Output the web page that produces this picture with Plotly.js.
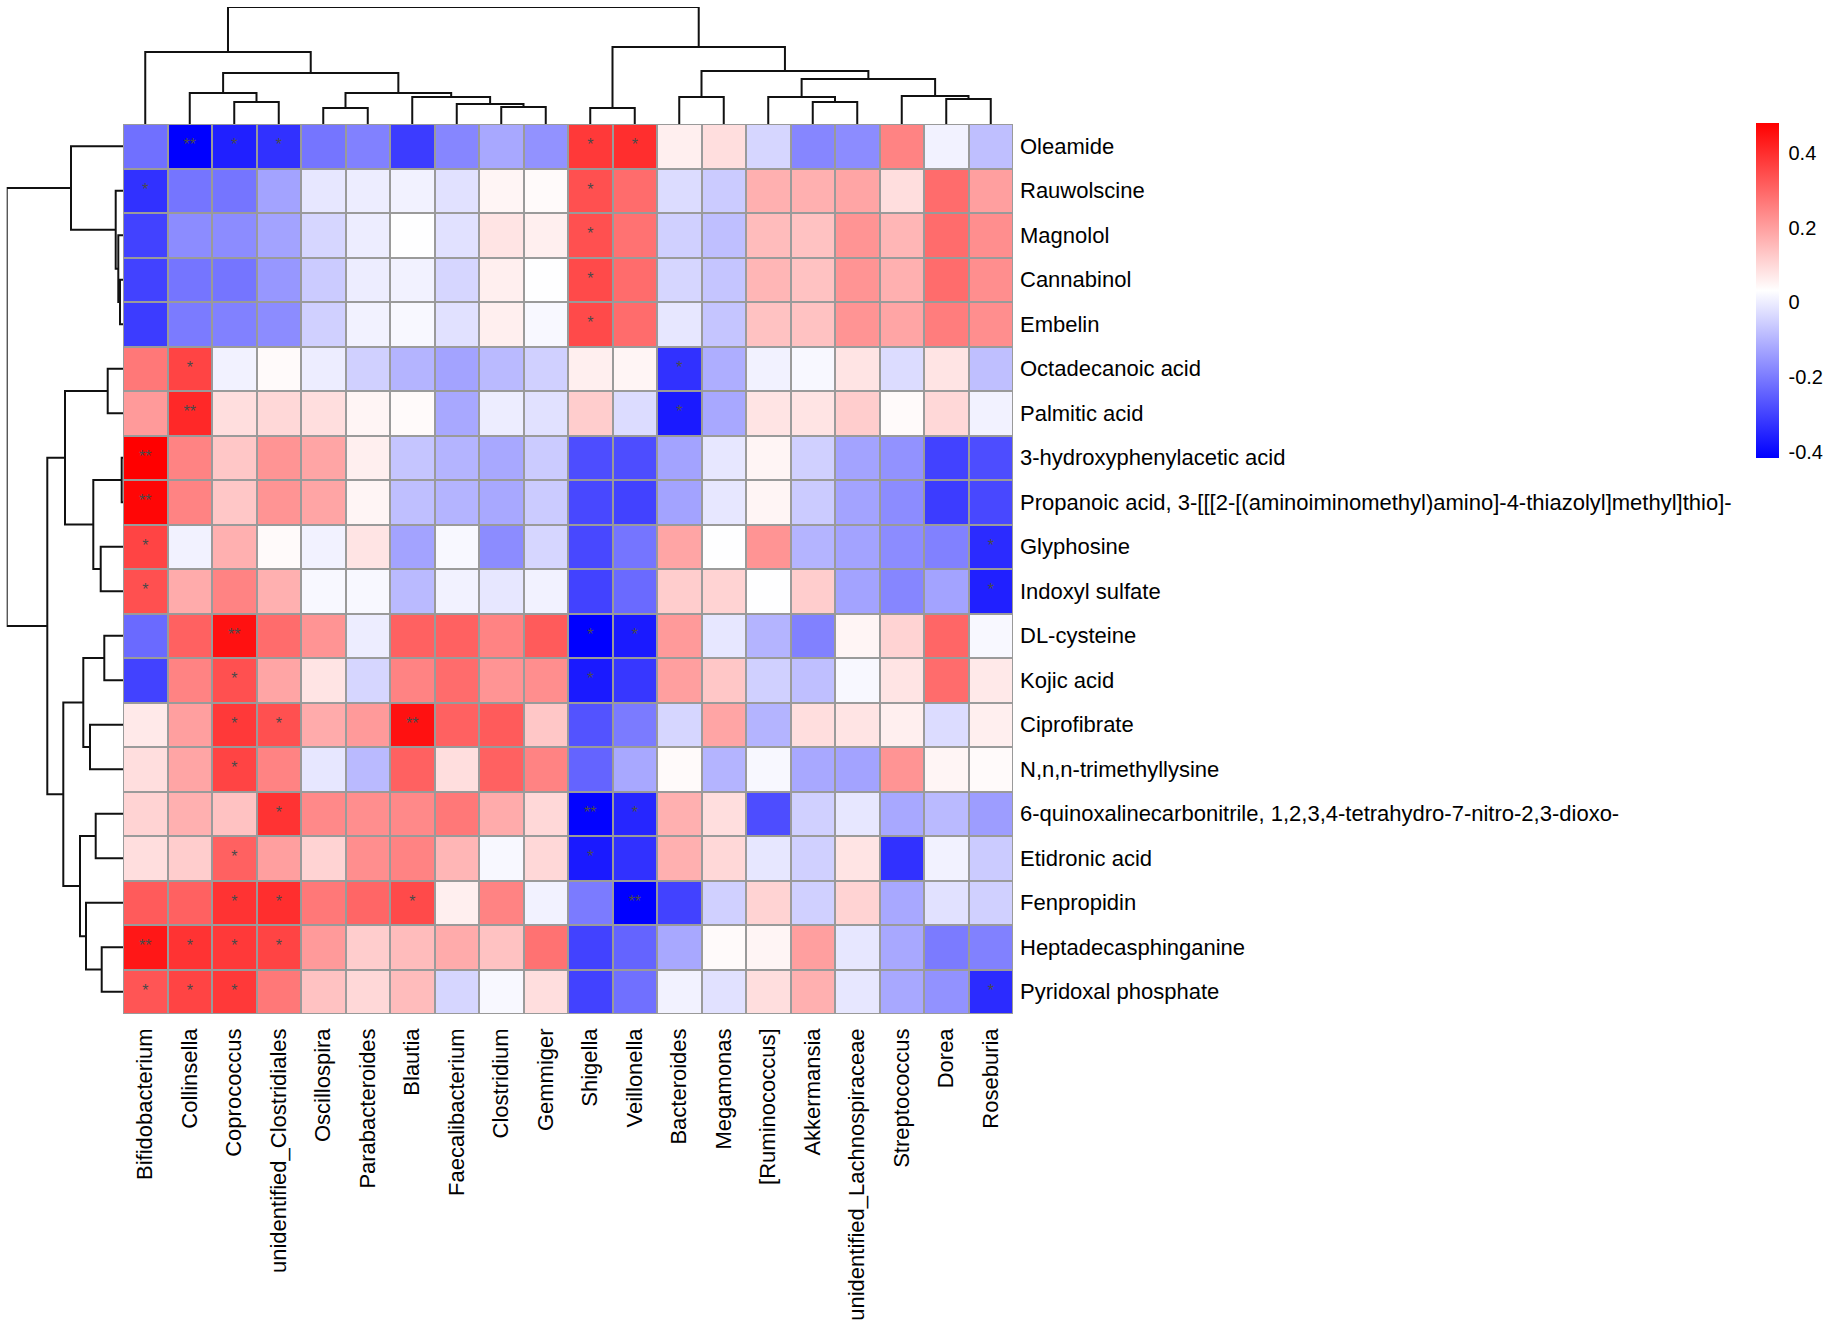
<!DOCTYPE html>
<html>
<head>
<meta charset="utf-8">
<script src="https://cdn.plot.ly/plotly-3.0.1.min.js"></script>
<style>html,body{margin:0;padding:0;background:#fff;}#chart{width:1831px;height:1322px;}</style>
</head>
<body>
<div id="chart"></div>
<script>
// ---- categories ----
const colLabels = ["Bifidobacterium","Collinsella","Coprococcus","unidentified_Clostridiales","Oscillospira","Parabacteroides","Blautia","Faecalibacterium","Clostridium","Gemmiger","Shigella","Veillonella","Bacteroides","Megamonas","[Ruminococcus]","Akkermansia","unidentified_Lachnospiraceae","Streptococcus","Dorea","Roseburia"];
const rowLabels = ["Oleamide","Rauwolscine","Magnolol","Cannabinol","Embelin","Octadecanoic acid","Palmitic acid","3-hydroxyphenylacetic acid","Propanoic acid, 3-[[[2-[(aminoiminomethyl)amino]-4-thiazolyl]methyl]thio]-","Glyphosine","Indoxyl sulfate","DL-cysteine","Kojic acid","Ciprofibrate","N,n,n-trimethyllysine","6-quinoxalinecarbonitrile, 1,2,3,4-tetrahydro-7-nitro-2,3-dioxo-","Etidronic acid","Fenpropidin","Heptadecasphinganine","Pyridoxal phosphate"];

// ---- correlation values, one array per metabolite (columns in colLabels order) ----
const vOleamide      = [-0.22,-0.42,-0.36,-0.33,-0.21,-0.19,-0.31,-0.18,-0.12,-0.16, 0.38, 0.40, 0.06, 0.09,-0.04,-0.18,-0.17, 0.25, 0.01,-0.08];
const vRauwolscine   = [-0.33,-0.21,-0.21,-0.13,-0.01, 0.00, 0.01,-0.02, 0.05, 0.04, 0.34, 0.29,-0.03,-0.06, 0.17, 0.17, 0.19, 0.09, 0.29, 0.20];
const vMagnolol      = [-0.30,-0.17,-0.17,-0.13,-0.04, 0.00, 0.03,-0.02, 0.08, 0.06, 0.34, 0.28,-0.05,-0.08, 0.15, 0.14, 0.22, 0.16, 0.29, 0.23];
const vCannabinol    = [-0.30,-0.21,-0.21,-0.15,-0.06, 0.00, 0.01,-0.04, 0.06, 0.03, 0.35, 0.29,-0.04,-0.07, 0.16, 0.14, 0.22, 0.17, 0.29, 0.23];
const vEmbelin       = [-0.31,-0.20,-0.19,-0.17,-0.05, 0.01, 0.02,-0.02, 0.06, 0.02, 0.35, 0.29,-0.01,-0.07, 0.14, 0.14, 0.22, 0.19, 0.26, 0.23];
const vOctadecanoic  = [ 0.27, 0.36, 0.01, 0.04, 0.00,-0.05,-0.10,-0.13,-0.09,-0.05, 0.06, 0.05,-0.33,-0.11, 0.01, 0.02, 0.08,-0.03, 0.08,-0.08];
const vPalmitic      = [ 0.21, 0.41, 0.09, 0.10, 0.09, 0.05, 0.04,-0.12, 0.00,-0.02, 0.12,-0.03,-0.37,-0.12, 0.08, 0.08, 0.12, 0.04, 0.10, 0.01];
const vHydroxyphenyl = [ 0.48, 0.25, 0.13, 0.22, 0.19, 0.06,-0.07,-0.10,-0.12,-0.06,-0.28,-0.28,-0.13,-0.01, 0.05,-0.05,-0.13,-0.16,-0.30,-0.28];
const vPropanoic     = [ 0.47, 0.25, 0.13, 0.22, 0.19, 0.05,-0.08,-0.10,-0.12,-0.06,-0.29,-0.30,-0.13,-0.01, 0.05,-0.06,-0.13,-0.17,-0.31,-0.29];
const vGlyphosine    = [ 0.36, 0.01, 0.17, 0.04, 0.01, 0.08,-0.13, 0.02,-0.17,-0.04,-0.29,-0.21, 0.19, 0.03, 0.22,-0.10,-0.13,-0.17,-0.19,-0.34];
const vIndoxyl       = [ 0.34, 0.18, 0.25, 0.17, 0.02, 0.02,-0.09, 0.01,-0.01, 0.01,-0.30,-0.23, 0.12, 0.11, 0.03, 0.12,-0.13,-0.18,-0.13,-0.36];
const vCysteine      = [-0.23, 0.31, 0.45, 0.29, 0.22, 0.00, 0.31, 0.31, 0.25, 0.32,-0.42,-0.37, 0.21,-0.01,-0.10,-0.19, 0.05, 0.11, 0.30, 0.02];
const vKojic         = [-0.30, 0.25, 0.34, 0.19, 0.08,-0.04, 0.25, 0.29, 0.22, 0.23,-0.37,-0.32, 0.20, 0.13,-0.05,-0.08, 0.02, 0.08, 0.29, 0.07];
const vCiprofibrate  = [ 0.07, 0.20, 0.38, 0.34, 0.18, 0.21, 0.45, 0.31, 0.32, 0.13,-0.27,-0.20,-0.04, 0.19,-0.10, 0.09, 0.08, 0.06,-0.03, 0.06];
const vTrimethyl     = [ 0.09, 0.19, 0.36, 0.25,-0.01,-0.09, 0.31, 0.09, 0.31, 0.25,-0.24,-0.12, 0.04,-0.10, 0.02,-0.12,-0.13, 0.22, 0.05, 0.04];
const vQuinoxaline   = [ 0.11, 0.17, 0.14, 0.39, 0.24, 0.23, 0.24, 0.27, 0.18, 0.10,-0.41,-0.35, 0.17, 0.09,-0.28,-0.05,-0.01,-0.12,-0.09,-0.14];
const vEtidronic     = [ 0.09, 0.12, 0.31, 0.20, 0.11, 0.23, 0.25, 0.16, 0.02, 0.10,-0.37,-0.33, 0.17, 0.10,-0.01,-0.05, 0.08,-0.33, 0.01,-0.06];
const vFenpropidin   = [ 0.32, 0.31, 0.39, 0.40, 0.27, 0.30, 0.35, 0.06, 0.25, 0.01,-0.20,-0.42,-0.30,-0.05, 0.11,-0.05, 0.11,-0.12,-0.02,-0.05];
const vHeptadeca     = [ 0.44, 0.39, 0.38, 0.36, 0.21, 0.12, 0.15, 0.18, 0.14, 0.28,-0.30,-0.24,-0.12, 0.04, 0.05, 0.20,-0.01,-0.12,-0.20,-0.19];
const vPyridoxal     = [ 0.33, 0.36, 0.38, 0.27, 0.14, 0.10, 0.15,-0.04, 0.02, 0.09,-0.30,-0.22, 0.01,-0.02, 0.09, 0.17,-0.01,-0.12,-0.16,-0.34];

// ---- significance marks: [row index, column index, label] ----
const sigMarks = [
  [0,1,"**"],[0,2,"*"],[0,3,"*"],[0,10,"*"],[0,11,"*"],
  [1,0,"*"],[1,10,"*"],[2,10,"*"],[3,10,"*"],[4,10,"*"],
  [5,1,"*"],[5,12,"*"],[6,1,"**"],[6,12,"*"],
  [7,0,"**"],[8,0,"**"],
  [9,0,"*"],[9,19,"*"],[10,0,"*"],[10,19,"*"],
  [11,2,"**"],[11,10,"*"],[11,11,"*"],
  [12,2,"*"],[12,10,"*"],
  [13,2,"*"],[13,3,"*"],[13,6,"**"],
  [14,2,"*"],
  [15,3,"*"],[15,10,"**"],[15,11,"*"],
  [16,2,"*"],[16,10,"*"],
  [17,2,"*"],[17,3,"*"],[17,6,"*"],[17,11,"**"],
  [18,0,"**"],[18,1,"*"],[18,2,"*"],[18,3,"*"],
  [19,0,"*"],[19,1,"*"],[19,2,"*"],[19,19,"*"]
];

// ---- dendrograms (hclust style: negative = leaf -(i+1), positive = earlier merge step; third = height) ----
const colMerge = [
  [-3,-4,22],[-2,1,31],[-5,-6,16],[-9,-10,17],[-8,4,20],[-7,5,27],[3,6,31],[2,7,51],[-1,8,72],
  [-11,-12,16],[-13,-14,27],[-16,-17,22],[-15,12,27],[-19,-20,25],[-18,14,28],[13,15,45],[11,16,53],[10,17,77],
  [9,18,117]
];
const rowMerge = [
  [-4,-5,3],[-3,1,4.7],[-2,2,7.3],[-1,3,52],
  [-6,-7,15.3],[-8,-9,1.3],[-10,-11,22.3],[6,7,29.7],[5,8,58],
  [-12,-13,18.7],[-14,-15,33],[10,11,39.7],[-16,-17,27.3],[-19,-20,21.3],[-18,14,37],[13,15,43],[12,16,59.7],
  [9,17,75.7],[4,18,116.3]
];

const z = [vOleamide,vRauwolscine,vMagnolol,vCannabinol,vEmbelin,vOctadecanoic,vPalmitic,vHydroxyphenyl,vPropanoic,vGlyphosine,vIndoxyl,vCysteine,vKojic,vCiprofibrate,vTrimethyl,vQuinoxaline,vEtidronic,vFenpropidin,vHeptadeca,vPyridoxal];
const idx = colLabels.map((_, i) => i);
const ridx = rowLabels.map((_, i) => i);

function dendroSegments(merge) {
  const pos = [], hgt = [];
  const along = [], up = [];
  const node = (id) => id < 0 ? [(-id) - 1, 0] : [pos[id - 1], hgt[id - 1]];
  merge.forEach(([a, b, h]) => {
    const [pa, ha] = node(a), [pb, hb] = node(b);
    along.push(pa, pa, pb, pb, null);
    up.push(ha, h, h, hb, null);
    pos.push((pa + pb) / 2); hgt.push(h);
  });
  return {along, up};
}
const cd = dendroSegments(colMerge);
const rd = dendroSegments(rowMerge);

const W = 1831, H = 1322;
const hx0 = 123 / W, hx1 = 1013 / W;
const hy0 = 1 - 1014 / H, hy1 = 1 - 124 / H;
const FONT = "Liberation Sans, Arial, Helvetica, sans-serif";

const traces = [
  {
    type: "heatmap", z: z, x: idx, y: ridx, xaxis: "x", yaxis: "y",
    colorscale: [[0, "#0000FF"], [0.5, "#FFFFFF"], [1, "#FF0000"]],
    zmin: -0.416, zmax: 0.48, xgap: 2, ygap: 2, hoverinfo: "skip",
    colorbar: {
      x: 1756 / W, xanchor: "left", xpad: 0, y: 1 - 123 / H, yanchor: "top", ypad: 0,
      len: (458 - 123) / H, lenmode: "fraction", thickness: 23, thicknessmode: "pixels",
      outlinewidth: 0, tickvals: [-0.4, -0.2, 0, 0.2, 0.4], ticktext: ["-0.4", "-0.2", "0", "0.2", "0.4"],
      ticks: "outside", ticklen: 6, tickcolor: "rgba(0,0,0,0)",
      tickfont: {family: FONT, size: 20, color: "#000"}
    }
  },
  {
    type: "scatter", mode: "text", xaxis: "x", yaxis: "y",
    x: sigMarks.map(m => m[1]), y: sigMarks.map(m => m[0]), text: sigMarks.map(m => m[2]),
    textposition: "middle center", textfont: {family: FONT, size: 16, color: "#4a4a4a"},
    hoverinfo: "skip", showlegend: false
  },
  {
    type: "scatter", mode: "lines", xaxis: "x2", yaxis: "y2",
    x: cd.along, y: cd.up, line: {color: "#111", width: 2}, cliponaxis: false,
    hoverinfo: "skip", showlegend: false
  },
  {
    type: "scatter", mode: "lines", xaxis: "x3", yaxis: "y3",
    x: rd.up, y: rd.along, line: {color: "#111", width: 2}, cliponaxis: false,
    hoverinfo: "skip", showlegend: false
  }
];

const layout = {
  width: W, height: H, margin: {l: 0, r: 0, t: 0, b: 0},
  paper_bgcolor: "#fff", plot_bgcolor: "rgba(0,0,0,0)", showlegend: false,
  font: {family: FONT, color: "#000"},
  xaxis: {
    domain: [hx0, hx1], range: [-0.5, 19.5], anchor: "y",
    tickvals: idx, ticktext: colLabels, tickangle: -90, ticks: "",
    ticklabelstandoff: 9, tickfont: {family: FONT, size: 22, color: "#000"},
    showgrid: false, zeroline: false, showline: false, fixedrange: true
  },
  yaxis: {
    domain: [hy0, hy1], range: [19.5, -0.5], anchor: "x", side: "right",
    tickvals: ridx, ticktext: rowLabels, ticks: "",
    ticklabelstandoff: 6, tickfont: {family: FONT, size: 22, color: "#000"},
    showgrid: false, zeroline: false, showline: false, fixedrange: true
  },
  xaxis2: {domain: [hx0, hx1], range: [-0.5, 19.5], anchor: "y2", visible: false, fixedrange: true},
  yaxis2: {domain: [hy1, 1 - 7 / H], range: [0, 117], anchor: "x2", visible: false, fixedrange: true},
  xaxis3: {domain: [6.7 / W, hx0], range: [116.3, 0], anchor: "y3", visible: false, fixedrange: true},
  yaxis3: {domain: [hy0, hy1], range: [19.5, -0.5], anchor: "x3", visible: false, fixedrange: true},
  shapes: [
    {type: "rect", xref: "x", yref: "y", x0: -0.5, x1: 19.5, y0: -0.5, y1: 19.5,
     fillcolor: "#9a9a9a", line: {width: 0}, layer: "below"},
    {type: "rect", xref: "x", yref: "y", x0: -0.5, x1: 19.5, y0: -0.5, y1: 19.5,
     fillcolor: "rgba(0,0,0,0)", line: {color: "#9a9a9a", width: 2}, layer: "above"}
  ]
};

Plotly.newPlot("chart", traces, layout, {displayModeBar: false, staticPlot: true});
</script>
</body>
</html>
